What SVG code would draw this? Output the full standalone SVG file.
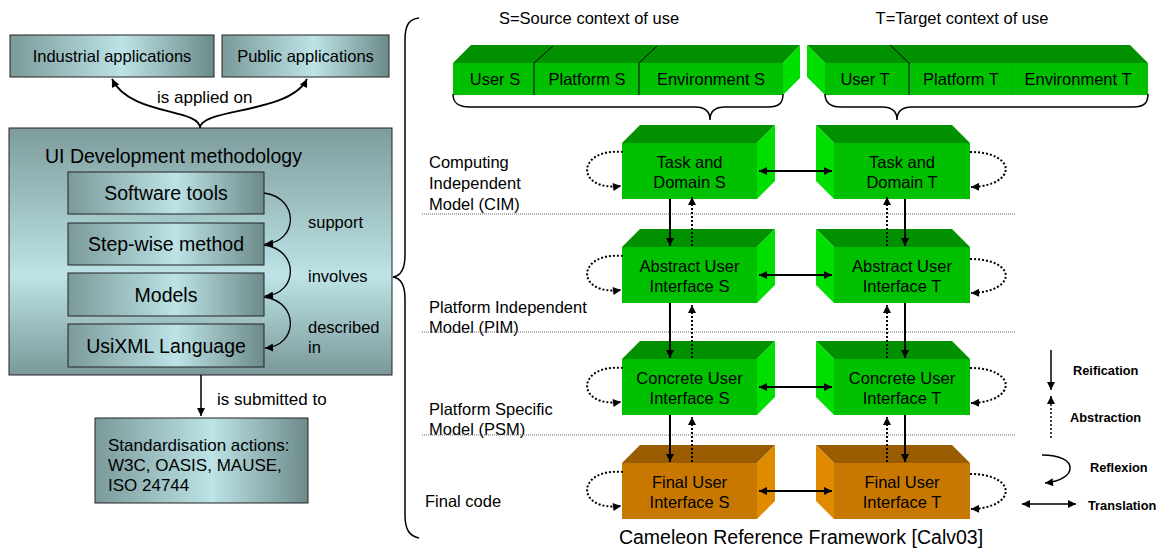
<svg xmlns="http://www.w3.org/2000/svg" width="1162" height="550" viewBox="0 0 1162 550">
<defs>
<linearGradient id="gH" x1="0" y1="0" x2="1" y2="0">
<stop offset="0" stop-color="#7b9a9a"/><stop offset="0.55" stop-color="#bde3e6"/><stop offset="1" stop-color="#6d8a8a"/>
</linearGradient>
<linearGradient id="gV" x1="0" y1="0" x2="0" y2="1">
<stop offset="0" stop-color="#7e9c9c"/><stop offset="0.6" stop-color="#bde3e6"/><stop offset="1" stop-color="#7a9898"/>
</linearGradient>
<marker id="ah" viewBox="0 0 10 10" refX="10" refY="5" markerWidth="9" markerHeight="8" markerUnits="userSpaceOnUse" orient="auto-start-reverse"><path d="M0,0 L10,5 L0,10 z" fill="#000"/></marker>
<style>
text{font-family:"Liberation Sans",Arial,sans-serif;fill:#000}
.bx{stroke:#222;stroke-width:1}
.t16{font-size:16.5px}
.t19{font-size:19.5px}
.t17{font-size:17px}
.lg{font-size:12.8px;font-weight:bold}
.c{text-anchor:middle}
.ln{fill:none;stroke:#000;stroke-width:2}
.dt{fill:none;stroke:#000;stroke-width:2;stroke-dasharray:2,2}
.sep{fill:none;stroke:#666;stroke-width:1;stroke-dasharray:1,1}
.br{fill:none;stroke:#000;stroke-width:1.5}
.gT{fill:#009000}.gF{fill:#00c000}.gS{fill:#00e000}
.oT{fill:#9a5c00}.oF{fill:#c87800}.oS{fill:#e08a00}
</style>
</defs>

<!-- Left part -->
<g id="industrial"><rect class="bx" x="10" y="35" width="204" height="42" fill="url(#gH)"/><text class="t16 c" x="112" y="62">Industrial applications</text></g>
<g id="public"><rect class="bx" x="222" y="35" width="167" height="42" fill="url(#gH)"/><text class="t16 c" x="305.5" y="62">Public applications</text></g>
<g id="methodology"><rect class="bx" x="9" y="128" width="383" height="247" fill="url(#gV)"/><text class="t19" x="45" y="163">UI Development methodology</text></g>
<g id="software"><rect class="bx" x="68" y="172" width="196" height="42" fill="url(#gH)"/><text class="t19 c" x="166" y="200">Software tools</text></g>
<g id="stepwise"><rect class="bx" x="68" y="223" width="196" height="42" fill="url(#gH)"/><text class="t19 c" x="166" y="251">Step-wise method</text></g>
<g id="models"><rect class="bx" x="68" y="273" width="196" height="43" fill="url(#gH)"/><text class="t19 c" x="166" y="302">Models</text></g>
<g id="usixml"><rect class="bx" x="68" y="324" width="196" height="43" fill="url(#gH)"/><text class="t19 c" x="166" y="353">UsiXML Language</text></g>
<g id="standard"><rect class="bx" x="95" y="418" width="213" height="85" fill="url(#gH)"/>
<text class="t17" x="108" y="451">Standardisation actions:</text>
<text class="t17" x="108" y="471">W3C, OASIS, MAUSE,</text>
<text class="t17" x="108" y="491">ISO 24744</text></g>

<!-- Context blocks -->
<g id="sourceContext">
<polygon class="gT" points="453,63 471,45 800,45 783,63"/>
<polygon class="gS" points="783,63 800,45 800,78 783,95"/>
<rect class="gF" x="453" y="63" width="330" height="32"/>
<path d="M534,63 L534,95 M534,63 L553,46 M639,63 L639,95 M639,63 L657,46" stroke="#000" stroke-width="1" fill="none"/>
<text class="t16 c" x="495" y="85">User S</text>
<text class="t16 c" x="587" y="85">Platform S</text>
<text class="t16 c" x="711" y="85">Environment S</text>
</g>
<g id="targetContext">
<polygon class="gT" points="807,45 1130,45 1148,63 825,63"/>
<polygon class="gS" points="807,45 825,63 825,95 807,77"/>
<rect class="gF" x="825" y="63" width="323" height="32"/>
<path d="M909,63 L909,95 M909,63 L890,45" stroke="#000" stroke-width="1" fill="none"/>
<path d="M1012,63 L1012,95" stroke="#00b000" stroke-width="1" fill="none"/>
<text class="t16 c" x="865" y="85">User T</text>
<text class="t16 c" x="961" y="85">Platform T</text>
<text class="t16 c" x="1078" y="85">Environment T</text>
</g>
<text class="t16 c" x="589" y="24">S=Source context of use</text>
<text class="t16 c" x="962" y="24">T=Target context of use</text>

<!-- Row labels -->
<g id="rowLabels">
<text class="t16" x="429" y="168">Computing</text>
<text class="t16" x="429" y="189">Independent</text>
<text class="t16" x="429" y="210">Model (CIM)</text>
<text class="t16" x="429" y="313">Platform Independent</text>
<text class="t16" x="429" y="333">Model (PIM)</text>
<text class="t16" x="429" y="415">Platform Specific</text>
<text class="t16" x="429" y="435">Model (PSM)</text>
<text class="t16" x="425" y="507">Final code</text>
</g>

<!-- S column boxes -->
<g id="taskS">
<polygon class="gT" points="622,143 640,125 775,125 757,143"/><polygon class="gS" points="757,143 775,125 775,181 757,199"/><rect class="gF" x="622" y="143" width="135" height="56"/>
<text class="t16 c" x="689.5" y="168">Task and</text><text class="t16 c" x="689.5" y="188">Domain S</text></g>
<g id="abstractS">
<polygon class="gT" points="622,247 640,229 775,229 757,247"/><polygon class="gS" points="757,247 775,229 775,285 757,303"/><rect class="gF" x="622" y="247" width="135" height="56"/>
<text class="t16 c" x="689.5" y="272">Abstract User</text><text class="t16 c" x="689.5" y="292">Interface S</text></g>
<g id="concreteS">
<polygon class="gT" points="622,359 640,341 775,341 757,359"/><polygon class="gS" points="757,359 775,341 775,397 757,415"/><rect class="gF" x="622" y="359" width="135" height="56"/>
<text class="t16 c" x="689.5" y="384">Concrete User</text><text class="t16 c" x="689.5" y="404">Interface S</text></g>
<g id="finalS">
<polygon class="oT" points="622,463 640,445 775,445 757,463"/><polygon class="oS" points="757,463 775,445 775,501 757,519"/><rect class="oF" x="622" y="463" width="135" height="56"/>
<text class="t16 c" x="689.5" y="488">Final User</text><text class="t16 c" x="689.5" y="508">Interface S</text></g>

<!-- T column boxes -->
<g id="taskT">
<polygon class="gT" points="816,125 952,125 970,143 834,143"/><polygon class="gS" points="816,125 834,143 834,199 816,181"/><rect class="gF" x="834" y="143" width="136" height="56"/>
<text class="t16 c" x="902" y="168">Task and</text><text class="t16 c" x="902" y="188">Domain T</text></g>
<g id="abstractT">
<polygon class="gT" points="816,229 952,229 970,247 834,247"/><polygon class="gS" points="816,229 834,247 834,303 816,285"/><rect class="gF" x="834" y="247" width="136" height="56"/>
<text class="t16 c" x="902" y="272">Abstract User</text><text class="t16 c" x="902" y="292">Interface T</text></g>
<g id="concreteT">
<polygon class="gT" points="816,341 952,341 970,359 834,359"/><polygon class="gS" points="816,341 834,359 834,415 816,397"/><rect class="gF" x="834" y="359" width="136" height="56"/>
<text class="t16 c" x="902" y="384">Concrete User</text><text class="t16 c" x="902" y="404">Interface T</text></g>
<g id="finalT">
<polygon class="oT" points="816,445 952,445 970,463 834,463"/><polygon class="oS" points="816,445 834,463 834,519 816,501"/><rect class="oF" x="834" y="463" width="136" height="56"/>
<text class="t16 c" x="902" y="488">Final User</text><text class="t16 c" x="902" y="508">Interface T</text></g>

<!-- Legend -->
<g id="legend">
<text class="lg" x="1073" y="375">Reification</text>
<text class="lg" x="1070" y="422">Abstraction</text>
<text class="lg" x="1090" y="472">Reflexion</text>
<text class="lg" x="1088" y="510">Translation</text>
</g>

<text class="c" x="801" y="544" style="font-size:19.5px">Cameleon Reference Framework [Calv03]</text>

<!-- Connectors -->
<g id="connectors">
<path class="ln" style="stroke-width:1.8" d="M200,128 C200,108 130,116 112,79" marker-end="url(#ah)"/>
<path class="ln" style="stroke-width:1.8" d="M200,128 C200,108 290,114 307,79" marker-end="url(#ah)"/>
<text class="t17" x="157" y="103">is applied on</text>
<path class="ln" style="stroke-width:1.3" d="M264,193 C300,198 298,242 265,244" marker-end="url(#ah)"/>
<path class="ln" style="stroke-width:1.3" d="M264,245 C300,250 298,294 265,296" marker-end="url(#ah)"/>
<path class="ln" style="stroke-width:1.3" d="M264,297 C300,302 298,346 265,348" marker-end="url(#ah)"/>
<text class="t16" x="308" y="228">support</text>
<text class="t16" x="308" y="282">involves</text>
<text class="t16" x="308" y="333">described</text>
<text class="t16" x="308" y="353">in</text>
<path class="ln" style="stroke-width:1.5" d="M201,375 L201,416" marker-end="url(#ah)"/>
<text class="t17" x="217" y="405">is submitted to</text>

<path class="br" d="M419,18 C409,19 405,25 405,40 L405,255 C405,269 400,276 393,277 C400,278 405,285 405,299 L405,515 C405,529 409,536 419,538"/>
<path class="br" d="M453,94 C453,103 458,107 470,107 L695,107 C705,107 710,112 710,120 C710,112 715,107 725,107 L768,107 C779,107 783,103 783,94"/>
<path class="br" d="M825,94 C825,103 830,107 841,107 L882,107 C892,107 897,112 897,120 C897,112 902,107 912,107 L1133,107 C1144,107 1148,103 1148,94"/>

<path class="sep" d="M422,214 L1015,214 M422,332 L1015,332 M422,435 L1015,435"/>

<path class="ln" d="M759,171 L832,171" marker-start="url(#ah)" marker-end="url(#ah)"/>
<path class="ln" d="M759,275 L832,275" marker-start="url(#ah)" marker-end="url(#ah)"/>
<path class="ln" d="M759,387 L832,387" marker-start="url(#ah)" marker-end="url(#ah)"/>
<path class="ln" d="M759,491 L832,491" marker-start="url(#ah)" marker-end="url(#ah)"/>

<path class="ln" d="M670,199 L670,246" marker-end="url(#ah)"/>
<path class="dt" d="M692,246 L692,197" marker-end="url(#ah)"/>
<path class="ln" d="M670,303 L670,358" marker-end="url(#ah)"/>
<path class="dt" d="M692,358 L692,305" marker-end="url(#ah)"/>
<path class="ln" d="M670,415 L670,462" marker-end="url(#ah)"/>
<path class="dt" d="M692,462 L692,417" marker-end="url(#ah)"/>

<path class="ln" d="M905,199 L905,246" marker-end="url(#ah)"/>
<path class="dt" d="M887,246 L887,197" marker-end="url(#ah)"/>
<path class="ln" d="M905,303 L905,358" marker-end="url(#ah)"/>
<path class="dt" d="M887,358 L887,305" marker-end="url(#ah)"/>
<path class="ln" d="M905,415 L905,462" marker-end="url(#ah)"/>
<path class="dt" d="M887,462 L887,417" marker-end="url(#ah)"/>

<path class="dt" d="M623,152 C575,148 576,192 621,186" marker-end="url(#ah)"/>
<path class="dt" d="M623,256 C575,252 576,296 621,290" marker-end="url(#ah)"/>
<path class="dt" d="M623,368 C575,364 576,408 621,402" marker-end="url(#ah)"/>
<path class="dt" d="M623,472 C575,468 576,512 621,506" marker-end="url(#ah)"/>

<path class="dt" d="M970,152 C1018,152 1017,186 971,187" marker-end="url(#ah)"/>
<path class="dt" d="M970,259 C1018,259 1017,292 971,293" marker-end="url(#ah)"/>
<path class="dt" d="M970,368 C1018,368 1017,402 971,403" marker-end="url(#ah)"/>
<path class="dt" d="M970,474 C1018,474 1017,508 971,509" marker-end="url(#ah)"/>

<path class="ln" style="stroke-width:1.5" d="M1051,350 L1051,390" marker-end="url(#ah)"/>
<path class="dt" style="stroke-width:1.5" d="M1051,438 L1051,396" marker-end="url(#ah)"/>
<path class="ln" style="stroke-width:1.5" d="M1042,455 C1080,455 1078,480 1045,483" marker-end="url(#ah)"/>
<path class="ln" style="stroke-width:1.5" d="M1022,504 L1076,504" marker-start="url(#ah)" marker-end="url(#ah)"/>
</g>
</svg>
